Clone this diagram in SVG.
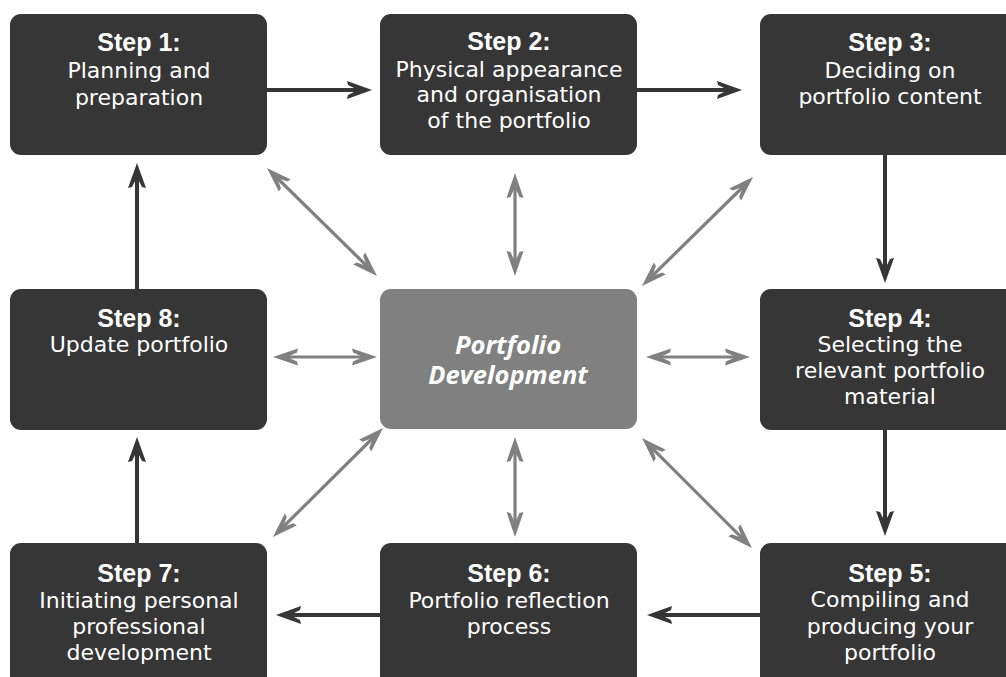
<svg xmlns="http://www.w3.org/2000/svg" width="1006" height="677" viewBox="0 0 1006 677">
<style>
.box{fill:#363636;}
.center{fill:#808080;}
.t{font-family:"DejaVu Sans","Liberation Sans",sans-serif;font-size:22px;fill:#ffffff;text-anchor:middle;}
.h{font-family:"Liberation Sans",Arial,sans-serif;font-size:25px;font-weight:bold;fill:#ffffff;text-anchor:middle;}
.c{font-family:"Open Sans","DejaVu Sans",sans-serif;font-size:25.5px;font-weight:bold;font-style:italic;fill:#ffffff;text-anchor:middle;}
.dk{stroke:#363636;stroke-width:4;fill:none;marker-end:url(#ad);}
.gr{stroke:#808080;stroke-width:3.2;fill:none;marker-end:url(#ag);marker-start:url(#ag);}
</style>
<defs>
<marker id="ad" markerUnits="userSpaceOnUse" markerWidth="40" markerHeight="40" viewBox="-20 -20 40 40" refX="0" refY="0" orient="auto-start-reverse" overflow="visible">
<path d="M10,0 L-15,-9 L-14,-5 L-4,0 L-14,5 L-15,9 Z" fill="#363636"/>
</marker>
<marker id="ag" markerUnits="userSpaceOnUse" markerWidth="40" markerHeight="40" viewBox="-20 -20 40 40" refX="0" refY="0" orient="auto-start-reverse" overflow="visible">
<path d="M10,0 L-15,-8.5 L-14,-4.5 L-4,0 L-14,4.5 L-15,8.5 Z" fill="#808080"/>
</marker>
</defs>

<g id="connectors">
<line class="dk" x1="267" y1="90" x2="362" y2="90"/>
<line class="dk" x1="637" y1="90" x2="732" y2="90"/>
<line class="dk" x1="885" y1="155" x2="885" y2="273"/>
<line class="dk" x1="885" y1="429" x2="885" y2="526"/>
<line class="dk" x1="760" y1="615" x2="657" y2="615"/>
<line class="dk" x1="380" y1="615" x2="286" y2="615"/>
<line class="dk" x1="137" y1="543" x2="137" y2="447"/>
<line class="dk" x1="137" y1="289" x2="137" y2="173"/>

<line class="gr" x1="274.1" y1="175" x2="369.9" y2="269"/>
<line class="gr" x1="515" y1="183" x2="515" y2="266"/>
<line class="gr" x1="745.9" y1="184" x2="649.1" y2="279"/>
<line class="gr" x1="283" y1="357" x2="367" y2="357"/>
<line class="gr" x1="656" y1="357" x2="740" y2="357"/>
<line class="gr" x1="375.9" y1="435" x2="280.1" y2="530"/>
<line class="gr" x1="515" y1="447" x2="515" y2="527"/>
<line class="gr" x1="649.1" y1="445.1" x2="744.9" y2="540.9"/>
</g>

<g id="step1">
<rect class="box" x="10" y="14" width="257" height="141" rx="11"/>
<text class="h" x="139" y="51">Step 1:</text>
<text class="t" x="139" y="78">Planning and</text>
<text class="t" x="139" y="105">preparation</text>
</g>
<g id="step2">
<rect class="box" x="380" y="14" width="257" height="141" rx="11"/>
<text class="h" x="509" y="50">Step 2:</text>
<text class="t" x="509" y="77">Physical appearance</text>
<text class="t" x="509" y="102">and organisation</text>
<text class="t" x="509" y="128">of the portfolio</text>
</g>
<g id="step3">
<rect class="box" x="760" y="14" width="262" height="141" rx="11"/>
<text class="h" x="890" y="51">Step 3:</text>
<text class="t" x="890" y="78">Deciding on</text>
<text class="t" x="890" y="104">portfolio content</text>
</g>
<g id="step8">
<rect class="box" x="10" y="289" width="257" height="141" rx="11"/>
<text class="h" x="139" y="327">Step 8:</text>
<text class="t" x="139" y="352">Update portfolio</text>
</g>
<g id="portfolio-development">
<rect class="center" x="380" y="289" width="257" height="140" rx="11"/>
<text class="c" x="508" y="354">Portfolio</text>
<text class="c" x="508" y="384">Development</text>
</g>
<g id="step4">
<rect class="box" x="760" y="289" width="262" height="141" rx="11"/>
<text class="h" x="890" y="327">Step 4:</text>
<text class="t" x="890" y="352">Selecting the</text>
<text class="t" x="890" y="378">relevant portfolio</text>
<text class="t" x="890" y="404">material</text>
</g>
<g id="step7">
<rect class="box" x="10" y="543" width="257" height="145" rx="11"/>
<text class="h" x="139" y="582">Step 7:</text>
<text class="t" x="139" y="608">Initiating personal</text>
<text class="t" x="139" y="634">professional</text>
<text class="t" x="139" y="660">development</text>
</g>
<g id="step6">
<rect class="box" x="380" y="543" width="257" height="145" rx="11"/>
<text class="h" x="509" y="582">Step 6:</text>
<text class="t" x="509" y="608">Portfolio reflection</text>
<text class="t" x="509" y="634">process</text>
</g>
<g id="step5">
<rect class="box" x="760" y="543" width="262" height="145" rx="11"/>
<text class="h" x="890" y="582">Step 5:</text>
<text class="t" x="890" y="607">Compiling and</text>
<text class="t" x="890" y="634">producing your</text>
<text class="t" x="890" y="660">portfolio</text>
</g>
</svg>
